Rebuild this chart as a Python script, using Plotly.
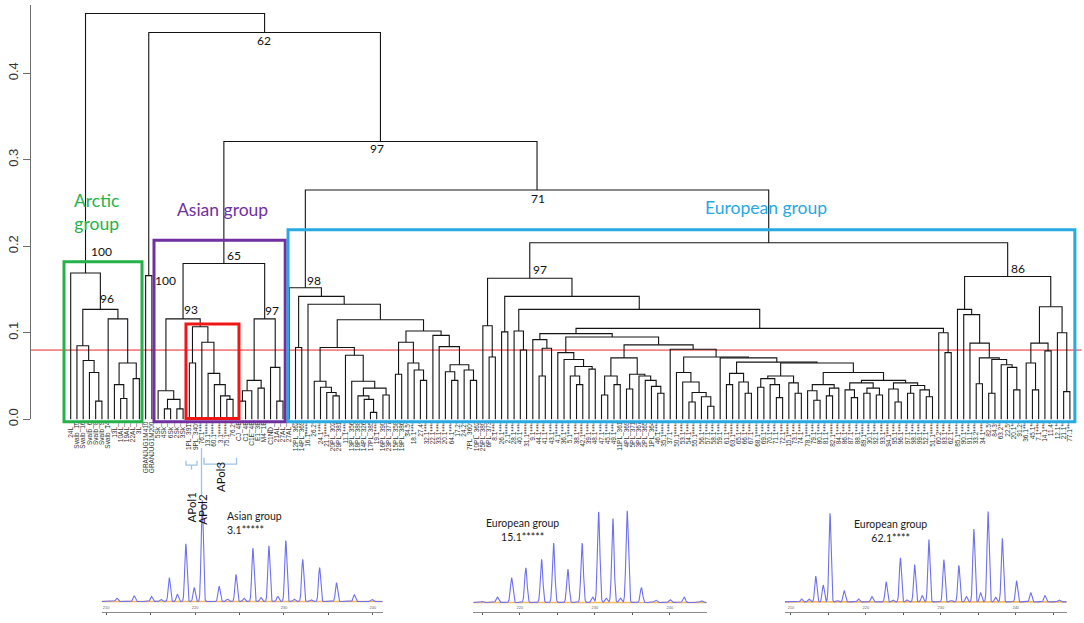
import numpy as np
import plotly.graph_objects as go

W, H = 1084, 623

# ---------------- data ----------------
ARCTIC_LEAVES = ["24L_f", "Svalb_10", "Svalb_16", "Svalb_6", "Svalb_8", "Svalb_9",
                 "Svalb_14", "13L_f", "10AL_f", "19AL_f", "22AL_f", "3L_f"]
OUTGROUP_LEAVES = ["GRANJUG1M410", "GRANJUG1M200"]
ASIAN_LEAVES = ["5Sk_f", "4Sk_f", "6Sk_f", "2Sk_f", "3Sk_f", "1PL_391*", "9PL_340*",
                "76.1****", "13.1*****", "60.1*****", "3.1*****", "75.1*****", "76.2*",
                "CJ_4B", "C1_4B", "C1E_4B", "E1_3B", "M4_1B", "C1ND_f", "21AL_f", "27AL_f"]
EUROPEAN_LEAVES = """
27AL_f 12PL_362 14PL_369 16.1***** 26.2* 24.1**** 21.1***** 20PL_302 29PL_381 11.1****
13PL_356 18PL_388 14PL_326 17PL_385 19.1**** 16PL_390 23PL_377 15PL_358 19PL_386 34.5*
18.1**** 27.4* 32.1**** 22.1**** 33.1**** 20.1**** 64.1**** 17.2* 24.2* 7PL_360*
10PL_362 25PL_380 6PL_373 8.1**** 26.1**** 2.1***** 28.1**** 40.1**** 31.1***** 9.1****
44.1**** 41.1**** 43.1**** 4.1***** 36.1**** 5.1***** 38.1**** 42.1***** 39.1**** 48.1****
47.1**** 45.1**** 49.1**** 11PL_361 4PL_369 5PL_371 3PL_367 2PL_365 1PL_364 46.1****
35.1***** 37.1**** 50.1***** 53.1**** 54.1**** 55.1***** 56.1**** 57.1**** 58.1**** 59.1****
61.1**** 63.1***** 65.1**** 66.1**** 67.1**** 68.1***** 69.1**** 70.1**** 71.1**** 72.1****
15.1***** 73.1**** 74.1**** 78.1***** 79.1**** 80.1**** 81.1**** 82.1***** 84.1**** 86.1****
87.1**** 88.1**** 89.1***** 30.1**** 92.1**** 93.1**** 94.1***** 95.1**** 96.1**** 97.1****
98.1**** 99.1**** 52.1**** 51.1***** 60.2**** 83.1**** 62.1**** 85.1***** 90.1**** 91.1****
33.2**** 34.1**** 82.5* 84.3* 63.2** 22.5* 20.1** 91.2* 36.1*** 45.1**
7.1**** 14.1*** 11.4* 12.1** 21.1** 77.1***
""".split()
LEAF_LABELS = ARCTIC_LEAVES + OUTGROUP_LEAVES + ASIAN_LEAVES + EUROPEAN_LEAVES

Y_TICKS = [0.0, 0.1, 0.2, 0.3, 0.4]
Y_TICK_TEXT = ["0.0", "0.1", "0.2", "0.3", "0.4"]
CUT_HEIGHT = 0.08

# bootstrap support values, keyed by node tag
SUPPORT = {"62": "62", "97a": "97", "71": "71", "100a": "100", "96": "96", "100b": "100",
           "65": "65", "93": "93", "97c": "97", "98": "98", "97b": "97", "86": "86"}

# tree: node = (merge height, left, right, tag); L = leaf (taken in label order)
L = None


def N(h, l, r, tag=None):
    return (h, l, r, tag)


ARCTIC = N(0.169, L,
           N(0.127, N(0.085, L, N(0.068, L, N(0.054, L, N(0.021, L, L)))),
             N(0.116, L, N(0.065, N(0.040, L, N(0.024, L, L)), N(0.047, L, L))), "96"),
           "100a")
OUTGROUP = N(0.166, L, L, "100b")
ASIAN = N(0.180,
          N(0.116,
            N(0.033, L, N(0.023, N(0.012, L, L), N(0.012, L, L))),
            N(0.107, N(0.065, L, L),
              N(0.089, L, N(0.053, L, N(0.040, L, N(0.027, L, N(0.023, L, L)))))), "93"),
          N(0.116, N(0.045, N(0.033, N(0.021, L, L), L), N(0.036, L, L)),
            N(0.060, L, N(0.021, L, L)), "97c"),
          "65")

EU98_A = N(0.044, L, N(0.037, L, N(0.031, L, N(0.027, L, L))))
EU98_B = N(0.074, L, N(0.044, L, N(0.036, N(0.027, L, N(0.023, L, N(0.008, L, L))),
                                    N(0.028, L, L))))
EU98_C = N(0.089, N(0.052, L, L), N(0.065, L, N(0.057, L, N(0.045, L, L))))
EU98_D = N(0.097, L, N(0.084, L, N(0.063, N(0.055, L, N(0.045, L, L)),
                                    N(0.057, L, N(0.045, L, L)))))
EU_98 = N(0.152, L, N(0.142, N(0.083, L, L),
                      N(0.133, L, N(0.115, N(0.083, EU98_A, EU98_B),
                                    N(0.102, EU98_C, EU98_D)))), "98")

EU_E = N(0.077, L, N(0.069, L, N(0.061, N(0.050, L, N(0.040, L, L)), N(0.058, L, L))))
EU_F = N(0.071, N(0.050, N(0.028, L, L), N(0.040, L, L)),
         N(0.052, N(0.035, L, L), N(0.050, L, N(0.045, L, N(0.038, L, N(0.030, L, L))))))
EU_G = N(0.054, L, N(0.043, L, N(0.031, N(0.020, L, L), N(0.026, L, N(0.015, L, L)))))
EU_H = N(0.066,
         N(0.053, N(0.040, L, L), N(0.043, L, N(0.030, L, L))),
         N(0.065,
           N(0.050, N(0.047, N(0.037, L, L), N(0.040, L, N(0.025, L, L))),
             N(0.042, L, N(0.030, L, L))),
           N(0.054,
             N(0.040, N(0.033, L, N(0.022, L, L)), N(0.036, N(0.027, L, L), L)),
             N(0.045,
               N(0.042, N(0.034, L, N(0.025, L, L)), N(0.036, N(0.030, L, L), N(0.028, L, L))),
               N(0.042, N(0.035, L, N(0.020, L, L)),
                 N(0.039, N(0.030, L, L), N(0.034, L, N(0.026, L, L))))))))
EU_P = N(0.099, N(0.092, L, N(0.082, N(0.050, L, L), L)),
         N(0.095, EU_E, N(0.086, EU_F, N(0.081, L, N(0.072, EU_G, N(0.071, L, EU_H))))))
EU_Q = N(0.100, L, N(0.077, L, L))
EU_97 = N(0.163, N(0.108, L, N(0.072, L, L)),
          N(0.142, N(0.101, L, L),
            N(0.127, N(0.102, L, N(0.080, L, L)), N(0.105, EU_P, EU_Q))), "97b")
EU_86 = N(0.165,
          N(0.127, L, N(0.121, L, N(0.088, L, N(0.071, N(0.041, L, L),
                                                  N(0.069, N(0.030, L, L),
                                                    N(0.063, L, N(0.060, L, N(0.034, L, L)))))))),
          N(0.130, N(0.088, N(0.065, L, N(0.034, L, L)), N(0.079, L, L)),
            N(0.100, L, N(0.032, L, L))),
          "86")

TREE = N(0.469, ARCTIC,
         N(0.447, OUTGROUP,
           N(0.321, ASIAN, N(0.265, EU_98, N(0.204, EU_97, EU_86), "71"), "97a"), "62"))

# group frames: (x from, x to) in leaf-index units, (y from, y to) in height units
GROUP_BOXES = [
    ("Arctic", -1.07, 11.42, -0.003, 0.182),
    ("Asian", 13.34, 34.35, -0.003, 0.207),
    ("European", 34.8, 160.8, -0.003, 0.219),
    ("APol", 18.46, 26.95, 0.001, 0.110),
]

# electropherograms: peak positions (bp) and heights (relative units)
ASIAN_PEAK_BP = [211.2, 213.15, 215.1, 216.15, 217.1, 218.0, 218.96, 219.9, 220.8, 222.7,
                 223.65, 224.6, 225.5, 226.5, 227.4, 228.3, 229.3, 230.2, 231.15, 232.1,
                 233.05, 234.0, 235.9, 237.9, 239.9]
ASIAN_PEAK_H = [10, 17, 15, 7, 72, 22, 175, 42, 307, 46, 7, 82, 10, 162, 12, 169, 15, 185,
                7, 128, 5, 103, 57, 20, 6]
EU15_PEAK_BP = [215.0, 217.0, 218.9, 220.8, 222.9, 224.5, 226.4, 228.3, 229.7, 230.5,
                231.5, 232.4, 233.4, 234.3, 236.2, 238.1, 240.0, 241.9, 244.2]
EU15_PEAK_H = [3, 16, 75, 105, 131, 180, 101, 180, 16, 275, 13, 255, 13, 278, 45, 7, 9, 16, 5]
EU62_PEAK_BP = [211.4, 212.4, 213.3, 214.3, 215.2, 216.2, 217.1, 219.0, 220.8, 222.7,
                223.6, 224.6, 225.5, 226.5, 227.5, 228.4, 230.4, 231.4, 232.4, 233.4,
                234.4, 235.3, 236.3, 237.3, 238.2, 240.1, 242.0, 243.9, 245.8]
EU62_PEAK_H = [9, 9, 78, 51, 269, 4, 34, 9, 16, 61, 6, 134, 6, 113, 19, 189, 128, 4, 111,
               16, 221, 28, 274, 14, 193, 64, 28, 19, 6]
PANEL_TEXT = ["Asian group<br>3.1*****", "European group<br>15.1*****",
              "European group<br>62.1****"]

# ---------------- layout / style ----------------
X0, X1 = -11.32, 162.26          # main x range (leaf index units)
Y0, Y1 = -0.2274, 0.4846         # main y range (height units)
FONT_NUM = "Lato, Open Sans, sans-serif"
LINE_COL = "#141414"


def to_px(x, y):
    return (x - X0) / (X1 - X0) * W, H - (y - Y0) / (Y1 - Y0) * H


def paper(px, py):
    return px / W, 1 - py / H


# ---------------- dendrogram geometry ----------------
seg_x, seg_y = [], []
node_pos = {}
counter = [0]


def walk(node):
    if node is None:
        i = counter[0]
        counter[0] += 1
        return float(i), 0.0
    h, l, r, tag = node
    xl, yl = walk(l)
    xr, yr = walk(r)
    seg_x.extend([xl, xl, xr, xr, None])
    seg_y.extend([yl, h, h, yr, None])
    xc = (xl + xr) / 2
    if tag:
        node_pos[tag] = (xc, h)
    return xc, h


walk(TREE)
n_leaves = counter[0]

fig = go.Figure()

# cut line
fig.add_trace(go.Scatter(x=[-6.52, 161.9], y=[CUT_HEIGHT, CUT_HEIGHT], mode="lines",
                         line=dict(color="#e8262a", width=1), hoverinfo="skip",
                         xaxis="x", yaxis="y", showlegend=False))
fig.add_trace(go.Scatter(x=seg_x, y=seg_y, mode="lines",
                         line=dict(color=LINE_COL, width=1.1), hoverinfo="skip",
                         xaxis="x", yaxis="y", showlegend=False))
# axis-carrier trace for the visible height axis + leaf labels
fig.add_trace(go.Scatter(x=[0], y=[0], mode="markers", marker=dict(opacity=0),
                         hoverinfo="skip", xaxis="x2", yaxis="y2", showlegend=False))

shapes = []
box_colors = {"Arctic": "#25b24b", "Asian": "#7030a0", "European": "#27a9e1", "APol": "#f01616"}
for name, bx0, bx1, by0, by1 in GROUP_BOXES:
    shapes.append(dict(type="rect", xref="x", yref="y", x0=bx0, x1=bx1, y0=by0, y1=by1,
                       line=dict(color=box_colors[name], width=3), layer="above"))

annotations = []
# group titles (pixel positions)
for txt, (px, py), col in [("Arctic<br>group", (96.7, 214.7), "#25b24b"),
                           ("Asian group", (222.7, 211.7), "#7030a0"),
                           ("European group", (766.0, 210.0), "#27a9e1")]:
    ax_, ay_ = paper(px, py)
    annotations.append(dict(text=txt, x=ax_, y=ay_, xref="paper", yref="paper",
                            xanchor="center", yanchor="middle", showarrow=False,
                            font=dict(family=FONT_NUM, size=17.5, color=col)))

# support values
SUPPORT_OFFSET = {"62": (-1, 8), "97a": (-3, 7.5), "71": (1, 9), "100a": (16, -22),
                  "96": (7, -11.5), "100b": (17, 4.5), "65": (10, -8), "93": (8, -10),
                  "97c": (7, -9), "98": (9, -7.5), "97b": (10, -9), "86": (10, -8.5)}
for tag, txt in SUPPORT.items():
    nx, ny = node_pos[tag]
    px, py = to_px(nx, ny)
    dx, dy = SUPPORT_OFFSET[tag]
    ax_, ay_ = paper(px + dx, py + dy)
    annotations.append(dict(text=txt, x=ax_, y=ay_, xref="paper", yref="paper",
                            xanchor="center", yanchor="middle", showarrow=False,
                            font=dict(family=FONT_NUM, size=12, color="#111")))

# APol markers
for txt, (px, py) in [("APol1", (191.7, 513.5)), ("APol2", (202.5, 515.0)),
                      ("APol3", (220.0, 482.5))]:
    ax_, ay_ = paper(px, py)
    annotations.append(dict(text=txt, x=ax_, y=ay_, xref="paper", yref="paper",
                            xanchor="center", yanchor="middle", showarrow=False,
                            textangle=-90,
                            font=dict(family=FONT_NUM, size=11.5, color="#111")))
bracket_paths = [
    [(186, 466), (186, 470.5), (197, 470.5), (197, 466)],
    [(191.5, 470.5), (191.5, 475)],
    [(201.5, 453), (201.5, 501)],
    [(204, 463), (204, 469.5), (236.5, 469.5), (236.5, 463)],
    [(220, 469.5), (220, 475)],
]
for pts in bracket_paths:
    p = "M " + " L ".join(f"{paper(a, b)[0]:.5f},{paper(a, b)[1]:.5f}" for a, b in pts)
    shapes.append(dict(type="path", xref="paper", yref="paper", path=p,
                       line=dict(color="#9cc3e6", width=1.3)))

# ---------------- electropherograms ----------------
PANELS = [
    # px0, px1, bp0, bp1, baseline py, axis py, sigma
    (101.7, 382.7, 209.5, 241.1, 608.3, 619.3, 0.12, ASIAN_PEAK_BP, ASIAN_PEAK_H),
    (473.3, 706.7, 213.8, 244.9, 609.3, 619.3, 0.16, EU15_PEAK_BP, EU15_PEAK_H),
    (785.0, 1066.7, 209.2, 246.8, 608.7, 619.3, 0.14, EU62_PEAK_BP, EU62_PEAK_H),
]
TEXT_POS = [(225.0, 514.0, "left"), (522.3, 520.5, "center"), (890.0, 521.5, "center")]
layout_axes = {}
for k, (px0, px1, bp0, bp1, base, axp, sig, pbp, ph) in enumerate(PANELS):
    ax_id = k + 3
    xs = np.linspace(bp0, bp1, 2000)
    ys = np.zeros_like(xs)
    for p, hgt in zip(pbp, ph):
        ys += hgt * np.exp(-0.5 * ((xs - p) / sig) ** 2)
    fig.add_trace(go.Scatter(x=[bp0, bp1], y=[0, 0], mode="lines",
                             line=dict(color="#f4b860", width=1.6), hoverinfo="skip",
                             xaxis=f"x{ax_id}", yaxis=f"y{ax_id}", showlegend=False))
    fig.add_trace(go.Scatter(x=xs, y=ys, mode="lines",
                             line=dict(color="#6f6ff2", width=1.1), hoverinfo="skip",
                             xaxis=f"x{ax_id}", yaxis=f"y{ax_id}", showlegend=False))
    ytop = 500.0
    ticks = list(range(int(np.ceil(bp0 / 5) * 5), int(bp1) + 1, 5))
    layout_axes[f"xaxis{ax_id}"] = dict(
        domain=[px0 / W, px1 / W], range=[bp0, bp1], anchor=f"y{ax_id}",
        showline=True, linecolor="#8a8a8a", linewidth=1, showgrid=False, zeroline=False,
        ticks="outside", ticklen=2, tickcolor="#555", tickvals=ticks,
        ticktext=[str(t) if t % 10 == 0 else "" for t in ticks],
        ticklabelposition="inside", tickfont=dict(size=4, color="#666"))
    layout_axes[f"yaxis{ax_id}"] = dict(
        domain=[1 - axp / H, 1 - ytop / H],
        range=[-(axp - base) * 3, (base - ytop) * 3], anchor=f"x{ax_id}",
        visible=False)
    tx, ty, al = TEXT_POS[k]
    ax_, ay_ = paper(tx, ty)
    annotations.append(dict(text=PANEL_TEXT[k], x=ax_, y=ay_, xref="paper", yref="paper",
                            xanchor=al, yanchor="top", align=al, showarrow=False,
                            font=dict(family=FONT_NUM, size=10.5, color="#1a1a1a")))

fig.update_layout(
    width=W, height=H, margin=dict(l=0, r=0, t=0, b=0), autosize=False,
    paper_bgcolor="white", plot_bgcolor="rgba(0,0,0,0)",
    font=dict(family="Liberation Sans, Arial, sans-serif"),
    showlegend=False,
    xaxis=dict(domain=[0, 1], range=[X0, X1], visible=False, fixedrange=True),
    yaxis=dict(domain=[0, 1], range=[Y0, Y1], visible=False, fixedrange=True),
    xaxis2=dict(domain=[0, 1], range=[X0, X1], anchor="y2", showline=False,
                showgrid=False, zeroline=False, ticks="",
                tickvals=list(range(n_leaves)), ticktext=LEAF_LABELS, tickangle=-90,
                tickfont=dict(family="Liberation Sans Narrow, Liberation Sans, sans-serif",
                              size=6.5, color="#333")),
    yaxis2=dict(domain=[1 - 424 / H, 1 - 5 / H], range=[0, (424 - 5) / 875],
                anchor="free", position=30 / W, showline=True, linecolor="#6e6e6e",
                linewidth=1.3, showgrid=False, zeroline=False, ticks="outside",
                ticklen=7, tickcolor="#6e6e6e", tickwidth=1.3, tickvals=Y_TICKS,
                ticktext=Y_TICK_TEXT, tickangle=-90,
                tickfont=dict(family="Liberation Sans, Arial", size=13, color="#333")),
    shapes=shapes, annotations=annotations,
    **layout_axes,
)

fig.write_html("out.html", include_plotlyjs=True, full_html=True,
               config={"displayModeBar": False, "staticPlot": True},
               post_script="document.body.style.margin='0';document.body.style.overflow='hidden';")
